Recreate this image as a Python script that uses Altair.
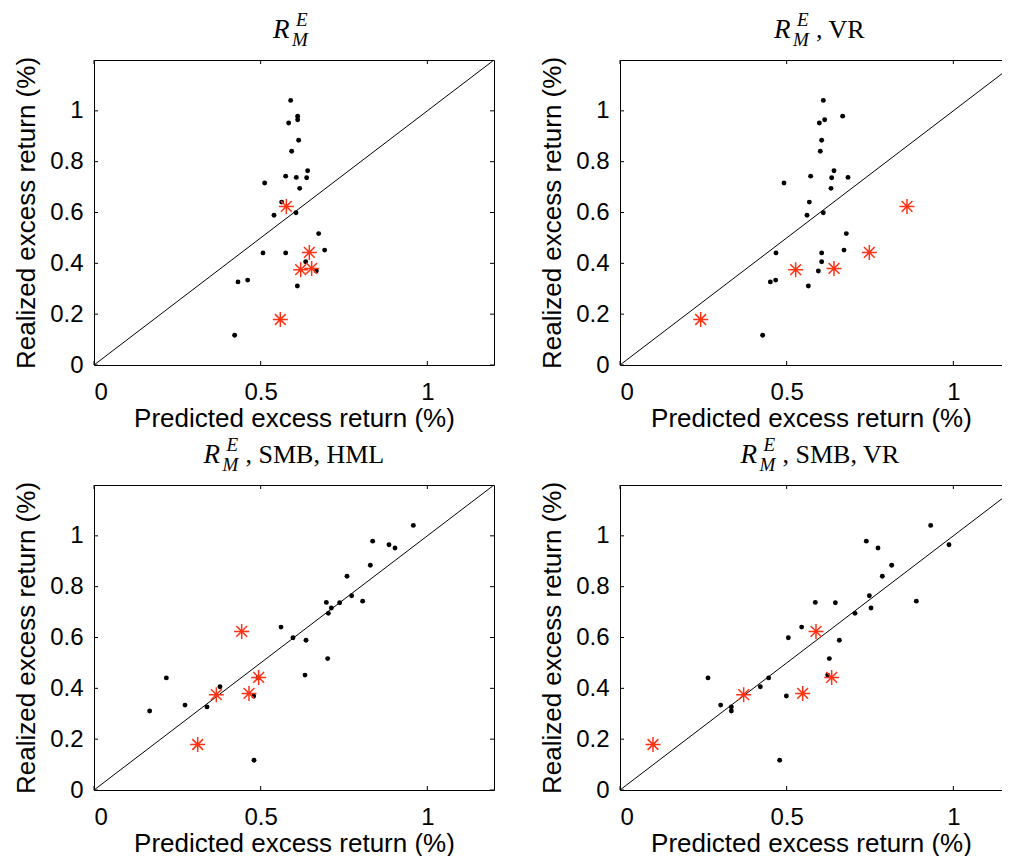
import altair as alt
import pandas as pd

# realized excess returns (same portfolios in every panel)
realized = [1.041, 0.979, 0.965, 0.952, 0.884, 0.841, 0.764, 0.743, 0.738, 0.737,
            0.716, 0.695, 0.641, 0.599, 0.589, 0.517, 0.452, 0.441, 0.441, 0.406,
            0.370, 0.334, 0.327, 0.311, 0.117]
realized_red = [0.624, 0.443, 0.380, 0.375, 0.179]

# predicted excess returns, one list per model
pred_p1 = [0.590, 0.611, 0.611, 0.584, 0.614, 0.593, 0.641, 0.575, 0.607, 0.638,
           0.512, 0.617, 0.563, 0.606, 0.540, 0.674, 0.692, 0.507, 0.575, 0.635,
           0.667, 0.461, 0.432, 0.610, 0.422]
pred_red_p1 = [0.577, 0.646, 0.653, 0.620, 0.559]

pred_p2 = [0.610, 0.668, 0.614, 0.598, 0.605, 0.601, 0.642, 0.572, 0.684, 0.635,
           0.492, 0.633, 0.568, 0.610, 0.561, 0.679, 0.672, 0.468, 0.605, 0.605,
           0.595, 0.467, 0.451, 0.565, 0.428]
pred_red_p2 = [0.861, 0.748, 0.642, 0.527, 0.242]

pred_p3 = [0.958, 0.836, 0.885, 0.903, 0.829, 0.759, 0.773, 0.806, 0.697, 0.737,
           0.712, 0.703, 0.561, 0.597, 0.636, 0.701, 0.633, 0.217, 0.492, 0.378,
           0.479, 0.273, 0.339, 0.167, 0.480]
pred_red_p3 = [0.443, 0.494, 0.465, 0.367, 0.311]

pred_p4 = [0.932, 0.739, 0.987, 0.774, 0.815, 0.787, 0.748, 0.889, 0.586, 0.646,
           0.753, 0.705, 0.545, 0.505, 0.658, 0.628, 0.623, 0.264, 0.446, 0.421,
           0.499, 0.302, 0.334, 0.334, 0.479]
pred_red_p4 = [0.588, 0.635, 0.548, 0.371, 0.099]

title_suffixes = ["", ", VR", ", SMB, HML", ", SMB, VR"]
x_ticks = [0, 0.5, 1]
y_ticks = [0, 0.2, 0.4, 0.6, 0.8, 1]
diag = [0, 1.2]

SANS = "Liberation Sans"
SERIF = "Liberation Serif"
RED = "#ff3214"
H = 305
TICK = 4
ASTERISK = "M-1,0L1,0M0,-1L0,1M-0.72,-0.72L0.72,0.72M-0.72,0.72L0.72,-0.72"


def panel(pred, pred_red, suffix, width, xmax, show_right, suffix_w):
    df = pd.DataFrame({"pred": pred, "real": realized})
    dfr = pd.DataFrame({"pred": pred_red, "real": realized_red})
    dfl = pd.DataFrame({"pred": diag, "real": diag})
    dxt = pd.DataFrame({"t": x_ticks})
    dyt = pd.DataFrame({"t": y_ticks})
    xs = alt.Scale(domain=[0, xmax], nice=False, zero=False)
    ys = alt.Scale(domain=[0, 1.2], nice=False, zero=False)

    xaxis = alt.Axis(values=x_ticks, format="~g", ticks=False, grid=False,
                     domain=True, domainColor="black", domainWidth=1,
                     labelFont=SANS, labelFontSize=24, labelColor="black",
                     labelPadding=15, title="Predicted excess return (%)",
                     titleFont=SANS, titleFontSize=26, titleFontWeight="normal",
                     titleColor="black", titleY=61, titleBaseline="alphabetic")
    yaxis = alt.Axis(values=y_ticks, format="~g", ticks=False, grid=False,
                     domain=True, domainColor="black", domainWidth=1,
                     labelFont=SANS, labelFontSize=24, labelColor="black",
                     labelPadding=11, title="Realized excess return (%)",
                     titleFont=SANS, titleFontSize=26, titleFontWeight="normal",
                     titleColor="black", titleX=-60, titleBaseline="alphabetic")
    top_axis = alt.Axis(orient="top", values=x_ticks, ticks=False, labels=False,
                        grid=False, domain=True, domainColor="black",
                        domainWidth=1, title=None)
    if show_right:
        right_axis = alt.Axis(orient="right", values=y_ticks, ticks=False,
                              labels=False, grid=False, domain=True,
                              domainColor="black", domainWidth=1, title=None)
    else:
        right_axis = None

    black = alt.Chart(df).mark_circle(size=24, color="black", opacity=1).encode(
        x=alt.X("pred:Q", scale=xs, axis=xaxis),
        y=alt.Y("real:Q", scale=ys, axis=yaxis),
    )
    red = alt.Chart(dfr).mark_point(shape=ASTERISK, size=225, filled=False,
                                    stroke=RED, strokeWidth=1.5, opacity=1).encode(
        x=alt.X("pred:Q", scale=xs, axis=None),
        y=alt.Y("real:Q", scale=ys, axis=None),
    )
    line = alt.Chart(dfl).mark_line(color="black", strokeWidth=1, clip=True).encode(
        x=alt.X("pred:Q", scale=xs, axis=top_axis),
        y=alt.Y("real:Q", scale=ys, axis=right_axis),
    )
    tb = alt.Chart(dxt).mark_rule(color="black", strokeWidth=1).encode(
        x=alt.X("t:Q", scale=xs, axis=None), y=alt.value(H), y2=alt.value(H - TICK))
    tt = alt.Chart(dxt).mark_rule(color="black", strokeWidth=1).encode(
        x=alt.X("t:Q", scale=xs, axis=None), y=alt.value(0), y2=alt.value(TICK))
    tl = alt.Chart(dyt).mark_rule(color="black", strokeWidth=1).encode(
        y=alt.Y("t:Q", scale=ys, axis=None), x=alt.value(0), x2=alt.value(TICK))
    layers = [line, black, red, tb, tt, tl]
    if show_right:
        tr = alt.Chart(dyt).mark_rule(color="black", strokeWidth=1).encode(
            y=alt.Y("t:Q", scale=ys, axis=None), x=alt.value(width),
            x2=alt.value(width - TICK))
        layers.append(tr)

    # title  R_M^E + suffix
    cx = 200
    block = 42 + suffix_w
    left = cx - block / 2
    one = pd.DataFrame({"k": [0]})
    tR = alt.Chart(one).mark_text(text="R", font=SERIF, fontStyle="italic",
                                  fontSize=27, align="left", baseline="alphabetic",
                                  color="black").encode(
        x=alt.value(left), y=alt.value(-22))
    tE = alt.Chart(one).mark_text(text="E", font=SERIF, fontStyle="italic",
                                  fontSize=19, align="left", baseline="alphabetic",
                                  color="black").encode(
        x=alt.value(left + 23), y=alt.value(-34))
    tM = alt.Chart(one).mark_text(text="M", font=SERIF, fontStyle="italic",
                                  fontSize=19, align="left", baseline="alphabetic",
                                  color="black").encode(
        x=alt.value(left + 19), y=alt.value(-14))
    layers += [tR, tE, tM]
    if suffix:
        tS = alt.Chart(one).mark_text(text=suffix, font=SERIF, fontSize=26,
                                      align="left", baseline="alphabetic",
                                      color="black").encode(
            x=alt.value(left + 42), y=alt.value(-22))
        layers.append(tS)

    return alt.layer(*layers).resolve_axis(x="independent", y="independent").properties(
        width=width, height=H)


W_L = 400
W_R = 382
XMAX_L = 1.2
XMAX_R = 1.2 * W_R / W_L

p1 = panel(pred_p1, pred_red_p1, title_suffixes[0], W_L, XMAX_L, True, 0)
p2 = panel(pred_p2, pred_red_p2, title_suffixes[1], W_R, XMAX_R, False, 50)
p3 = panel(pred_p3, pred_red_p3, title_suffixes[2], W_L, XMAX_L, True, 139)
p4 = panel(pred_p4, pred_red_p4, title_suffixes[3], W_R, XMAX_R, False, 117)

chart = alt.concat(p1, p2, p3, p4, columns=2,
                   spacing={"row": 120, "column": 126}, bounds="flush").properties(
    padding={"left": 5, "top": 3, "right": 0, "bottom": 0},
    background="white",
).configure_view(stroke=None).configure_axis(grid=False)

chart.save("out.html", embed_options={"renderer": "svg", "actions": False})
